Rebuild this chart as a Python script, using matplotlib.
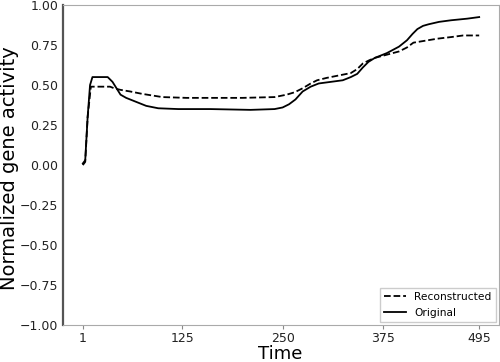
import matplotlib
matplotlib.use("Agg")
import matplotlib.pyplot as plt

# values
t_orig = [1, 4, 7, 10, 13, 16, 25, 32, 38, 43, 48, 55, 65, 80, 95, 120, 160, 210,
          240, 250, 258, 266, 275, 285, 295, 310, 325, 335, 343, 350, 357, 365,
          380, 395, 405, 412, 418, 425, 432, 445, 460, 480, 495]
v_orig = [0.01, 0.03, 0.30, 0.50, 0.55, 0.55, 0.55, 0.55, 0.52, 0.48, 0.44, 0.42,
          0.40, 0.37, 0.355, 0.35, 0.35, 0.345, 0.35, 0.36, 0.38, 0.41, 0.46, 0.49,
          0.51, 0.52, 0.53, 0.55, 0.57, 0.61, 0.645, 0.67, 0.70, 0.74, 0.78, 0.82,
          0.85, 0.87, 0.88, 0.895, 0.905, 0.915, 0.925]

t_rec = [1, 4, 7, 11, 15, 25, 35, 40, 48, 60, 75, 100, 130, 200, 240, 255, 265,
         275, 285, 293, 305, 320, 335, 343, 350, 358, 365, 380, 395, 405, 413, 425,
         443, 460, 475, 495]
v_rec = [0.0, 0.02, 0.30, 0.49, 0.49, 0.49, 0.49, 0.48, 0.47, 0.46, 0.445, 0.425,
         0.42, 0.42, 0.425, 0.44, 0.455, 0.48, 0.51, 0.53, 0.545, 0.56, 0.575, 0.60,
         0.635, 0.655, 0.67, 0.69, 0.71, 0.735, 0.765, 0.775, 0.79, 0.80, 0.81, 0.81]

xticks = [1, 125, 250, 375, 495]
yticks = [-1.0, -0.75, -0.5, -0.25, 0.0, 0.25, 0.5, 0.75, 1.0]

fig = plt.figure(figsize=(5, 3.62), dpi=100)
ax = fig.add_axes([0.126, 0.102, 0.872, 0.884])

ax.plot(t_rec, v_rec, "k--", lw=1.3, label="Reconstructed")
ax.plot(t_orig, v_orig, "k-", lw=1.3, label="Original")

ax.set_xlim(-23.7, 519.7)
ax.set_ylim(-1.0, 1.0)
ax.set_xticks(xticks)
ax.set_yticks(yticks)
ax.tick_params(axis="both", labelsize=9, colors="#222222")
ax.tick_params(axis="x", length=3, pad=2, color="#888888")
ax.tick_params(axis="y", length=0)

for s in ["top", "right", "bottom"]:
    ax.spines[s].set_color("#aaaaaa")
ax.spines["left"].set_color("#555555")
ax.spines["left"].set_linewidth(1.6)

ax.set_xlabel("Time", fontsize=13)
ax.set_ylabel("Normalized gene activity", fontsize=14)
ax.xaxis.set_label_coords(0.498, -0.062)
ax.yaxis.set_label_coords(-0.102, 0.49)

leg = ax.legend(loc="lower right", fontsize=7.7, fancybox=False, framealpha=1,
                borderaxespad=0.3)
leg.get_frame().set_edgecolor("#cccccc")

fig.savefig("out.png", dpi=100)
